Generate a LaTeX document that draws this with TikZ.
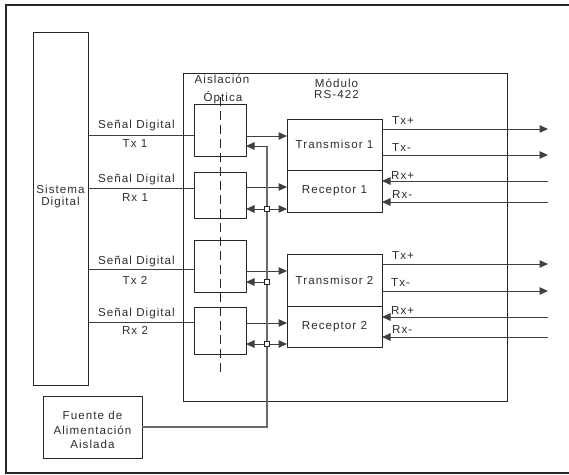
\documentclass[tikz,border=0pt]{standalone}
\usepackage{fontspec}
\setmainfont{Liberation Sans}[LetterSpace=9]
\usetikzlibrary{arrows.meta}
\definecolor{ink}{HTML}{262626}
\definecolor{wire}{HTML}{404040}
\definecolor{pwr}{HTML}{6A6A6A}
\definecolor{txt}{HTML}{2E2E2E}
\tikzset{
  blk/.style={draw=ink, line width=1pt, inner sep=0pt, outer sep=0pt, fill=white, text=txt,
              font=\fontsize{11.6}{13}\selectfont, align=center},
  lbl/.style={inner sep=0pt, text=txt, font=\fontsize{11.6}{13}\selectfont, align=center},
  wr/.style={draw=wire, line width=1pt},
  arr/.style={wr, -{Triangle[length=8.5pt,width=7.5pt]}},
  pline/.style={draw=pwr, line width=1.2pt},
  sq/.style={draw=ink, fill=white, line width=0.8pt, minimum size=5.5pt, inner sep=0pt, outer sep=0pt},
}
\begin{document}
\begin{tikzpicture}[x=1pt,y=-1pt]
\useasboundingbox (0,0) rectangle (569,474);
% frame
\draw[draw=ink, line width=1.5pt] (570,5) -- (6,5) -- (6,473) -- (570,473);

% boxes
\node[blk, minimum width=324pt, minimum height=328pt] (mod) at (345,237) {};
\node[blk, minimum width=55pt, minimum height=353pt] (sys) at (60.5,208.5) {};
\node[lbl] (syst) at (60.5,196) {Sistema\\[-1pt]Digital};

\node[blk, minimum width=52pt, minimum height=52pt] (o1) at (220,130) {};
\node[blk, minimum width=52pt, minimum height=46pt] (o2) at (220,195) {};
\node[blk, minimum width=52pt, minimum height=52pt] (o3) at (220,266) {};
\node[blk, minimum width=52pt, minimum height=47pt] (o4) at (220,330.5) {};

\node[blk, minimum width=95pt, minimum height=51pt] (t1) at (334.5,144.5) {Transmisor 1};
\node[blk, minimum width=95pt, minimum height=42pt] (r1) at (334.5,191) {Receptor 1};
\node[blk, minimum width=95pt, minimum height=52pt] (t2) at (334.5,280) {Transmisor 2};
\node[blk, minimum width=95pt, minimum height=41pt] (r2) at (334.5,326.5) {Receptor 2};

\node[blk, minimum width=99pt, minimum height=62pt] (fu) at (92.5,427) {};
\node[lbl] (fut) at (92.5,430) {Fuente de\\[2pt]Alimentación\\[1pt]Aislada};

% titles
\node[lbl] (ais) at (222,79) {Aislación};
\node[lbl] (opt) at (223,98) {Óptica};
\node[lbl] (modt) at (336.5,89) {Módulo\\[-2pt]RS-422};

% dashed isolation line
\coordinate (dtop) at (220,97);
\coordinate (dbot) at (220,375);
\draw[draw=ink, line width=1pt, dash pattern=on 9pt off 5pt] (dtop) -- (dbot);

% input signals
\draw[wr] (sys.east |- 0,135) -- (o1.west |- 0,135);
\draw[wr] (sys.east |- 0,188) -- (o2.west |- 0,188);
\draw[wr] (sys.east |- 0,269) -- (o3.west |- 0,269);
\draw[wr] (sys.east |- 0,322) -- (o4.west |- 0,322);
\node[lbl] (s1) at (136.5,125) {Señal Digital};
\node[lbl] (s1b) at (135,144) {Tx 1};
\node[lbl] (s2) at (136.5,179) {Señal Digital};
\node[lbl] (s2b) at (135,198) {Rx 1};
\node[lbl] (s3) at (136.5,261) {Señal Digital};
\node[lbl] (s3b) at (135,280) {Tx 2};
\node[lbl] (s4) at (136.5,313) {Señal Digital};
\node[lbl] (s4b) at (135,330) {Rx 2};

% opto -> module
\draw[arr] (o1.east |- 0,136) -- (t1.west |- 0,136);
\draw[arr] (o2.east |- 0,187) -- (r1.west |- 0,187);
\draw[arr] (o3.east |- 0,271) -- (t2.west |- 0,271);
\draw[arr] (o4.east |- 0,323) -- (r2.west |- 0,323);

% power line
\coordinate (ptop) at (267,146);
\draw[pline] (fu.east) -| (ptop);
\draw[arr] (ptop) -- (o1.east |- ptop);
\node[sq] (q1) at (267,209) {};
\node[sq] (q2) at (267,282) {};
\node[sq] (q3) at (267,344) {};
\draw[arr] (q1.west) -- (o2.east |- q1);
\draw[arr] (q1.east) -- (r1.west |- q1);
\draw[arr] (q2.west) -- (o3.east |- q2);
\draw[arr] (q3.west) -- (o4.east |- q3);
\draw[arr] (q3.east) -- (r2.west |- q3);

% RS-422 lines, block 1
\coordinate (e1) at (548,129);
\coordinate (e2) at (548,155);
\coordinate (e3) at (548,181);
\coordinate (e4) at (548,202);
\draw[arr] (t1.east |- e1) -- (e1);
\draw[arr] (t1.east |- e2) -- (e2);
\draw[arr] (e3) -- (r1.east |- e3);
\draw[arr] (e4) -- (r1.east |- e4);
\node[lbl, anchor=west] (l1) at (392,121) {Tx+};
\node[lbl, anchor=west] (l2) at (392,148) {Tx-};
\node[lbl, anchor=west] (l3) at (391,176) {Rx+};
\node[lbl, anchor=west] (l4) at (392,195) {Rx-};

% RS-422 lines, block 2
\coordinate (f1) at (548,264);
\coordinate (f2) at (548,291);
\coordinate (f3) at (548,317);
\coordinate (f4) at (548,337);
\draw[arr] (t2.east |- f1) -- (f1);
\draw[arr] (t2.east |- f2) -- (f2);
\draw[arr] (f3) -- (r2.east |- f3);
\draw[arr] (f4) -- (r2.east |- f4);
\node[lbl, anchor=west] (m1) at (392,256) {Tx+};
\node[lbl, anchor=west] (m2) at (391,283) {Tx-};
\node[lbl, anchor=west] (m3) at (391,311) {Rx+};
\node[lbl, anchor=west] (m4) at (392,330) {Rx-};
\end{tikzpicture}
\end{document}
